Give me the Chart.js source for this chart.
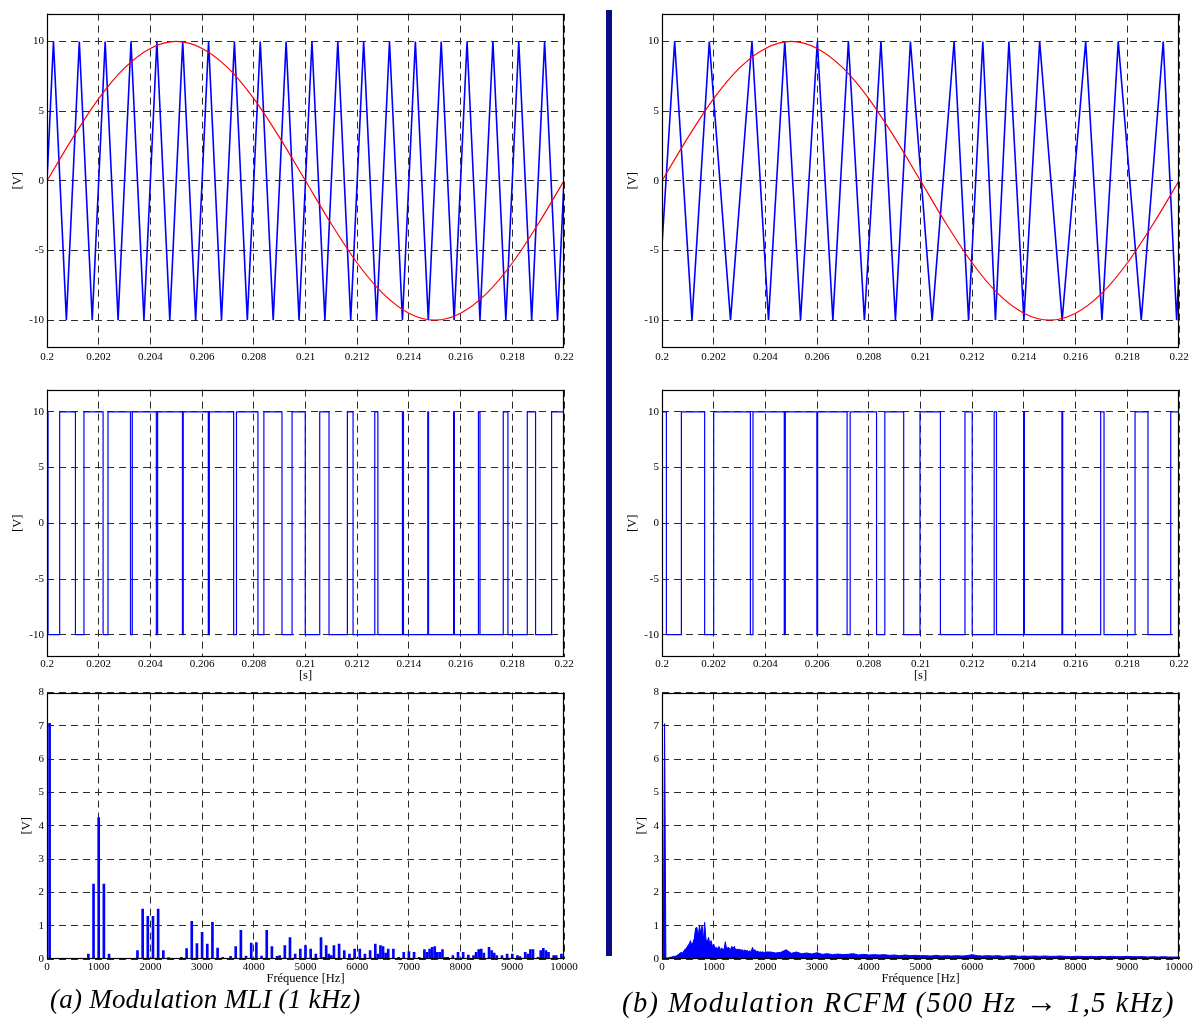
<!DOCTYPE html>
<html lang="fr">
<head>
<meta charset="utf-8">
<title>Modulation MLI / RCFM</title>
<script src="https://cdn.jsdelivr.net/npm/chart.js@4.4.1/dist/chart.umd.min.js"></script>
<style>
  html, body { margin: 0; padding: 0; background: #fff; overflow: hidden; }
  body { width: 1197px; height: 1033px; position: relative; }
  canvas { position: absolute; }
  #sep { position: absolute; left: 606px; top: 10px; width: 6px; height: 946px; background: #0b0b84; }
  .legende { position: absolute; top: 984px; font-family: "Liberation Serif", "Times New Roman", serif;
             font-style: italic; font-size: 27px; white-space: nowrap; color: #000; }
  #legB { font-size: 28.5px; top: 983px; }
  .fleche { font-style: normal; font-weight: bold; font-size: 32px; }
</style>
</head>
<body>
<canvas id="mliPorteuse"></canvas>
<canvas id="rcfmPorteuse"></canvas>
<canvas id="mliSortie"></canvas>
<canvas id="rcfmSortie"></canvas>
<canvas id="mliSpectre"></canvas>
<canvas id="rcfmSpectre"></canvas>
<div id="sep"></div>
<div class="legende" id="legA" style="left:50px">(a) Modulation MLI (1 kHz)</div>
<div class="legende" id="legB" style="left:622px">(b) Modulation RCFM (500 Hz <span class="fleche">&rarr;</span> 1,5 kHz)</div>

<script>
// ---------------------------- donnees ----------------------------

// graduations
const tempsTicks = [0.2, 0.202, 0.204, 0.206, 0.208, 0.21, 0.212, 0.214, 0.216, 0.218, 0.22];
const tensionTicks = [-10, -5, 0, 5, 10];
const freqTicks = [0, 1000, 2000, 3000, 4000, 5000, 6000, 7000, 8000, 9000, 10000];
const ampTicks = [0, 1, 2, 3, 4, 5, 6, 7, 8];

// reference sinusoidale (50 Hz)
const sinusTemps = [0.2, 0.201, 0.202, 0.203, 0.204, 0.205, 0.206, 0.207, 0.208, 0.209, 0.21,
                    0.211, 0.212, 0.213, 0.214, 0.215, 0.216, 0.217, 0.218, 0.219, 0.22];
const sinusVals = [0, 3.1, 5.9, 8.1, 9.5, 10, 9.5, 8.1, 5.9, 3.1, 0,
                   -3.1, -5.9, -8.1, -9.5, -10, -9.5, -8.1, -5.9, -3.1, 0];

// porteuse triangulaire MLI 1 kHz (sommets)
const triATemps = [0.2, 0.20025, 0.20075, 0.20125, 0.20175, 0.20225, 0.20275, 0.20325, 0.20375, 0.20425, 0.20475,
                   0.20525, 0.20575, 0.20625, 0.20675, 0.20725, 0.20775, 0.20825, 0.20875, 0.20925, 0.20975,
                   0.21025, 0.21075, 0.21125, 0.21175, 0.21225, 0.21275, 0.21325, 0.21375, 0.21425, 0.21475,
                   0.21525, 0.21575, 0.21625, 0.21675, 0.21725, 0.21775, 0.21825, 0.21875, 0.21925, 0.21975, 0.22];
const triAVals = [0, 10, -10, 10, -10, 10, -10, 10, -10, 10, -10,
                  10, -10, 10, -10, 10, -10, 10, -10, 10, -10,
                  10, -10, 10, -10, 10, -10, 10, -10, 10, -10,
                  10, -10, 10, -10, 10, -10, 10, -10, 10, -10, 0];

// porteuse RCFM (frequence variable)
const triBTemps = [0.2, 0.20049, 0.20116, 0.20183, 0.20265, 0.20348, 0.20412, 0.20475, 0.20536, 0.20601, 0.20661,
                   0.20721, 0.20783, 0.20847, 0.20903, 0.20961, 0.21045, 0.2113, 0.21186, 0.21241, 0.2129,
                   0.21342, 0.214, 0.21461, 0.21548, 0.21639, 0.21702, 0.21765, 0.21854, 0.21939, 0.21991, 0.22];
const triBVals = [-4.6, 10, -10, 10, -10, 10, -10, 10, -10, 10, -10,
                  10, -10, 10, -10, 10, -10, 10, -10, 10, -10,
                  10, -10, 10, -10, 10, -10, 10, -10, 10, -10, -6.5];

// sortie MLI (instants de commutation, valeur tenue jusqu'au suivant)
const sortieATemps = [0.2, 0.20004, 0.20049, 0.2011, 0.20143, 0.20217, 0.20236, 0.20323, 0.2033, 0.20423, 0.20428,
                      0.20524, 0.20527, 0.20624, 0.20628, 0.20722, 0.20733, 0.20816, 0.20839, 0.20909, 0.20948,
                      0.20999, 0.21055, 0.21091, 0.21162, 0.21184, 0.21268, 0.2128, 0.21375, 0.21379, 0.21473,
                      0.21476, 0.21573, 0.21576, 0.21669, 0.21675, 0.21765, 0.21783, 0.21858, 0.2189, 0.21952, 0.22];
const sortieAVals = [10, -10, 10, -10, 10, -10, 10, -10, 10, -10, 10,
                     -10, 10, -10, 10, -10, 10, -10, 10, -10, 10,
                     -10, 10, -10, 10, -10, 10, -10, 10, -10, 10,
                     -10, 10, -10, 10, -10, 10, -10, 10, -10, 10, 10];

// sortie RCFM
const sortieBTemps = [0.2, 0.20017, 0.20075, 0.20165, 0.202, 0.20342, 0.20352, 0.20473, 0.20477, 0.20599, 0.20602,
                      0.20716, 0.20728, 0.2083, 0.20862, 0.20935, 0.20998, 0.21077, 0.21172, 0.212, 0.21285,
                      0.21294, 0.21399, 0.21402, 0.21547, 0.2155, 0.21697, 0.2171, 0.2183, 0.2188, 0.21968, 0.22];
const sortieBVals = [10, -10, 10, -10, 10, -10, 10, -10, 10, -10, 10,
                     -10, 10, -10, 10, -10, 10, -10, 10, -10, 10,
                     -10, 10, -10, 10, -10, 10, -10, 10, -10, 10, 10];

// spectre MLI (raies)
const specAFreqs = [50, 800, 900, 1000, 1100, 1200,
                    1750, 1850, 1950, 2050, 2150, 2250, 2350,
                    2600, 2700, 2800, 2900, 3000, 3100, 3200, 3300, 3400,
                    3550, 3650, 3750, 3850, 3950, 4050, 4150, 4250, 4350, 4450,
                    4500, 4600, 4700, 4800, 4900, 5000, 5100, 5200, 5300, 5350, 5400, 5450, 5500,
                    5550, 5650, 5750, 5850, 5950, 6050, 6150, 6250, 6350, 6400, 6450, 6500, 6550,
                    6600, 6700, 6800, 6900, 7000, 7100, 7200, 7300, 7350, 7400, 7450, 7500, 7550,
                    7600, 7650, 7700, 7750, 7850, 7950, 8050, 8150, 8250, 8300, 8350, 8400, 8450,
                    8550, 8600, 8650, 8700, 8800, 8900, 9000, 9100, 9150, 9250, 9300, 9350, 9400,
                    9500, 9550, 9600, 9650, 9700, 9800, 9850, 9950, 10000];
const specAAmps = [7.08, 0.15, 2.25, 4.25, 2.25, 0.15,
                   0.25, 1.5, 1.28, 1.28, 1.5, 0.25, 0.04,
                   0.05, 0.31, 1.13, 0.46, 0.8, 0.45, 1.1, 0.33, 0.05,
                   0.08, 0.37, 0.86, 0.09, 0.48, 0.49, 0.09, 0.86, 0.37, 0.08,
                   0.1, 0.4, 0.64, 0.15, 0.3, 0.4, 0.3, 0.15, 0.64, 0.05, 0.4, 0.15, 0.1,
                   0.4, 0.45, 0.25, 0.15, 0.3, 0.3, 0.15, 0.25, 0.45, 0.15, 0.4, 0.37, 0.18,
                   0.3, 0.3, 0.05, 0.2, 0.22, 0.2, 0.05, 0.28, 0.2, 0.3, 0.35, 0.37, 0.2,
                   0.2, 0.28, 0.05, 0.05, 0.1, 0.2, 0.2, 0.12, 0.1, 0.2, 0.28, 0.3, 0.18,
                   0.35, 0.25, 0.18, 0.1, 0.1, 0.15, 0.15, 0.1, 0.07, 0.2, 0.15, 0.28, 0.28,
                   0.05, 0.25, 0.32, 0.25, 0.2, 0.1, 0.1, 0.15, 0.1];

// spectre RCFM (etale)
const specBFreqs = [0, 25, 50, 75, 100, 125, 150, 175, 200, 225,
                    250, 275, 300, 325, 350, 375, 400, 425, 450, 475,
                    500, 525, 550, 575, 600, 625, 650, 675, 700, 725,
                    750, 775, 800, 825, 850, 875, 900, 925, 950, 975,
                    1000, 1025, 1050, 1075, 1100, 1125, 1150, 1175, 1200, 1225,
                    1250, 1275, 1300, 1325, 1350, 1375, 1400, 1425, 1450, 1475,
                    1500, 1525, 1550, 1575, 1600, 1625, 1650, 1675, 1700, 1725,
                    1750, 1775, 1800, 1825, 1850, 1875, 1900, 1925, 1950, 1975,
                    2000,
                    2100, 2200, 2300, 2400, 2500, 2600, 2700, 2800, 2900, 3000,
                    3100, 3200, 3300, 3400, 3500, 3600, 3700, 3800, 3900, 4000,
                    4100, 4200, 4300, 4400, 4500, 4600, 4700, 4800, 4900, 5000,
                    5100, 5200, 5300, 5400, 5500, 5600, 5700, 5800, 5900, 6000,
                    6100, 6200, 6300, 6400, 6500, 6600, 6700, 6800, 6900, 7000,
                    7100, 7200, 7300, 7400, 7500, 7600, 7700, 7800, 7900, 8000,
                    8100, 8200, 8300, 8400, 8500, 8600, 8700, 8800, 8900, 9000,
                    9100, 9200, 9300, 9400, 9500, 9600, 9700, 9800, 9900, 10000];
const specBAmps = [0.03, 0.03, 7.07, 0.03, 0.03, 0.04, 0.05, 0.05, 0.07, 0.08,
                   0.08, 0.09, 0.12, 0.14, 0.18, 0.2, 0.18, 0.25, 0.3, 0.33,
                   0.4, 0.45, 0.55, 0.42, 0.5, 0.62, 0.93, 0.95, 0.68, 1.0,
                   0.78, 1.0, 0.55, 1.1, 0.6, 0.5, 0.65, 0.45, 0.55, 0.38,
                   0.45, 0.32, 0.35, 0.3, 0.38, 0.28, 0.33, 0.3, 0.28, 0.52,
                   0.3, 0.35, 0.33, 0.28, 0.38, 0.32, 0.38, 0.27, 0.3, 0.28,
                   0.3, 0.26, 0.28, 0.25, 0.27, 0.24, 0.26, 0.22, 0.25, 0.22,
                   0.35, 0.25, 0.28, 0.22, 0.24, 0.2, 0.22, 0.2, 0.22, 0.19,
                   0.21,
                   0.21, 0.18, 0.2, 0.28, 0.17, 0.21, 0.16, 0.18, 0.15, 0.19,
                   0.14, 0.16, 0.13, 0.15, 0.13, 0.14, 0.16, 0.12, 0.14, 0.12,
                   0.13, 0.12, 0.13, 0.11, 0.12, 0.1, 0.12, 0.1, 0.11, 0.1,
                   0.1, 0.09, 0.11, 0.09, 0.1, 0.09, 0.1, 0.09, 0.1, 0.13,
                   0.1, 0.09, 0.1, 0.09, 0.1, 0.08, 0.09, 0.1, 0.08, 0.09,
                   0.08, 0.09, 0.08, 0.09, 0.08, 0.08, 0.09, 0.08, 0.07, 0.08,
                   0.08, 0.07, 0.08, 0.07, 0.08, 0.07, 0.08, 0.07, 0.07, 0.08,
                   0.07, 0.07, 0.07, 0.06, 0.07, 0.06, 0.07, 0.06, 0.06, 0.06];

// ---------------------------- mise en page ----------------------------

Chart.defaults.font.family = '"Liberation Serif", "Times New Roman", serif';
Chart.defaults.color = '#000';
Chart.defaults.animation = false;

const PAD_TOP = 8;
const PAD_RIGHT = 16;
const BLEU = '#0000ff';
const ROUGE = '#ff0000';

// zones de trace (x, y, w, h) + largeur axe Y + hauteur axe X
const zones = {
  mliPorteuse:  { x: 47,  y: 12,  w: 517, h: 336, axeY: 40, axeX: 20, pad: 3 },
  rcfmPorteuse: { x: 662, y: 12,  w: 517, h: 336, axeY: 40, axeX: 20, pad: 3 },
  mliSortie:    { x: 47,  y: 388, w: 517, h: 269, axeY: 40, axeX: 26, pad: 1 },
  rcfmSortie:   { x: 662, y: 388, w: 517, h: 269, axeY: 40, axeX: 26, pad: 1 },
  mliSpectre:   { x: 47,  y: 691, w: 517, h: 268, axeY: 31, axeX: 27, pad: 2 },
  rcfmSpectre:  { x: 662, y: 691, w: 517, h: 268, axeY: 31, axeX: 27, pad: 2 }
};

// cadre noir autour de la zone de trace
const cadre = {
  id: 'cadre',
  afterDraw(chart) {
    const a = chart.chartArea;
    const ctx = chart.ctx;
    ctx.save();
    ctx.strokeStyle = '#000';
    ctx.lineWidth = 1.2;
    ctx.strokeRect(Math.round(a.left) + 0.5, Math.round(a.top) + 0.5,
                   Math.round(a.right - a.left) - 1, Math.round(a.bottom - a.top) - 1);
    ctx.restore();
  }
};

function placer(id) {
  const z = zones[id];
  const canvas = document.getElementById(id);
  canvas.width = z.axeY + z.w + PAD_RIGHT;
  canvas.height = PAD_TOP + z.h + z.axeX;
  canvas.style.left = (z.x - z.axeY) + 'px';
  canvas.style.top = (z.y - PAD_TOP) + 'px';
  return canvas;
}

function points(xs, ys) {
  return xs.map((x, i) => ({ x: x, y: ys[i] }));
}

function axeX(z, min, max, ticksVals, fmt, titre) {
  return {
    type: 'linear', min: min, max: max, offset: false,
    afterBuildTicks: s => { s.ticks = ticksVals.map(v => ({ value: v })); },
    afterFit: s => { s.height = z.axeX; },
    ticks: { callback: fmt, font: { size: 11 }, padding: z.pad, maxRotation: 0, autoSkip: false },
    grid: { color: '#2a2a2a', drawTicks: false, offset: false },
    border: { display: false, dash: [7, 5] },
    title: { display: !!titre, text: titre || '', font: { size: 12.5 }, padding: 0 }
  };
}

function axeY(z, min, max, ticksVals) {
  return {
    type: 'linear', min: min, max: max,
    afterBuildTicks: s => { s.ticks = ticksVals.map(v => ({ value: v })); },
    afterFit: s => { s.width = z.axeY; },
    ticks: { callback: v => String(v), font: { size: 11 }, padding: 3, autoSkip: false },
    grid: { color: '#2a2a2a', drawTicks: false },
    border: { display: false, dash: [7, 5] },
    title: { display: true, text: '[V]', font: { size: 12.5 }, padding: { top: 3.5, bottom: 0 } }
  };
}

const fmtTemps = v => String(+v.toFixed(3));
const fmtFreq = v => String(v);

function options(z, x, y) {
  return {
    responsive: false,
    animation: false,
    layout: { padding: { top: PAD_TOP, right: PAD_RIGHT, left: 0, bottom: 0 } },
    plugins: { legend: { display: false }, tooltip: { enabled: false } },
    scales: { x: x, y: y }
  };
}

// ---------------------------- porteuse + reference ----------------------------

function graphePorteuse(id, triT, triV) {
  const z = zones[id];
  new Chart(placer(id), {
    type: 'line',
    data: {
      datasets: [{
        data: points(sinusTemps, sinusVals),
        borderColor: ROUGE, borderWidth: 1.2, pointRadius: 0,
        cubicInterpolationMode: 'monotone'
      }, {
        data: points(triT, triV),
        borderColor: BLEU, borderWidth: 1.6, pointRadius: 0, tension: 0
      }]
    },
    options: options(z, axeX(z, 0.2, 0.22, tempsTicks, fmtTemps), axeY(z, -12, 12, tensionTicks)),
    plugins: [cadre]
  });
}

// ---------------------------- tension de sortie ----------------------------

function grapheSortie(id, t, v) {
  const z = zones[id];
  new Chart(placer(id), {
    type: 'line',
    data: {
      datasets: [{
        data: points(t, v),
        borderColor: BLEU, borderWidth: 1.2, pointRadius: 0, stepped: 'before'
      }]
    },
    options: options(z, axeX(z, 0.2, 0.22, tempsTicks, fmtTemps, '[s]'), axeY(z, -12, 12, tensionTicks)),
    plugins: [cadre]
  });
}

// ---------------------------- spectres ----------------------------

function grapheSpectreRaies(id) {
  const z = zones[id];
  new Chart(placer(id), {
    type: 'bar',
    data: {
      datasets: [{
        data: points(specAFreqs, specAAmps),
        backgroundColor: BLEU, barThickness: 2
      }]
    },
    options: options(z, axeX(z, 0, 10000, freqTicks, fmtFreq, 'Fréquence [Hz]'), axeY(z, 0, 8, ampTicks)),
    plugins: [cadre]
  });
}

function grapheSpectreEtale(id) {
  const z = zones[id];
  new Chart(placer(id), {
    type: 'line',
    data: {
      datasets: [{
        data: points(specBFreqs, specBAmps),
        borderColor: BLEU, backgroundColor: BLEU, borderWidth: 1,
        pointRadius: 0, tension: 0, fill: 'origin'
      }]
    },
    options: options(z, axeX(z, 0, 10000, freqTicks, fmtFreq, 'Fréquence [Hz]'), axeY(z, 0, 8, ampTicks)),
    plugins: [cadre]
  });
}

graphePorteuse('mliPorteuse', triATemps, triAVals);
graphePorteuse('rcfmPorteuse', triBTemps, triBVals);
grapheSortie('mliSortie', sortieATemps, sortieAVals);
grapheSortie('rcfmSortie', sortieBTemps, sortieBVals);
grapheSpectreRaies('mliSpectre');
grapheSpectreEtale('rcfmSpectre');

// legendes : leger interlettrage pour retrouver la largeur du modele
function ajusterLegende(id, largeur) {
  const el = document.getElementById(id);
  const n = el.textContent.length;
  const manque = largeur - el.offsetWidth;
  if (n > 1 && manque > 0) {
    el.style.letterSpacing = (manque / n) + 'px';
  }
}
ajusterLegende('legA', 310);
ajusterLegende('legB', 553);
</script>
</body>
</html>
